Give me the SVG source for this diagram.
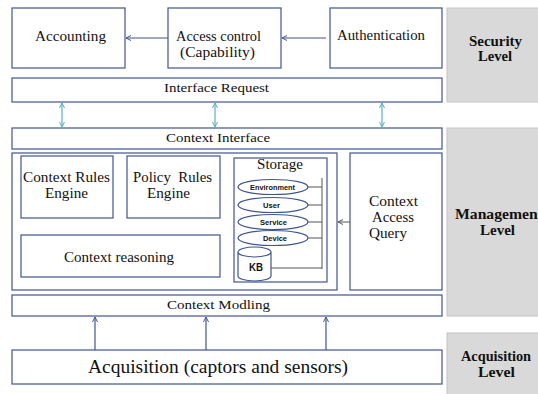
<svg xmlns="http://www.w3.org/2000/svg" width="538" height="394" viewBox="0 0 538 394">
<style>
.box{fill:#fff;stroke:#41558f;stroke-width:1.2}
.lvl{fill:#d9d9d9;stroke:#c4c4c4;stroke-width:1}
.t{fill:#111;text-anchor:middle}
.tb{font-weight:bold;fill:#111;text-anchor:middle}
.ts{font-weight:bold;fill:#111;text-anchor:middle}
.ln{stroke:#41558f;stroke-width:1.2;fill:none}
.tl{stroke:#5aaec4;stroke-width:1.2;fill:none}
.gl{stroke:#555;stroke-width:1;fill:none}
</style>
<defs>
<marker id="ab" markerWidth="8" markerHeight="8" refX="7" refY="4" orient="auto" markerUnits="userSpaceOnUse"><path d="M2,1.5 L7,4 L2,6.5" fill="none" stroke="#41558f" stroke-width="1"/></marker>
<marker id="at" markerWidth="8" markerHeight="8" refX="7" refY="4" orient="auto-start-reverse" markerUnits="userSpaceOnUse"><path d="M2,1.5 L7,4 L2,6.5" fill="none" stroke="#5aaec4" stroke-width="1"/></marker>
<marker id="ag" markerWidth="8" markerHeight="8" refX="7" refY="4" orient="auto" markerUnits="userSpaceOnUse"><path d="M2,1.5 L7,4 L2,6.5" fill="none" stroke="#555" stroke-width="1"/></marker>
</defs>
<rect width="538" height="394" fill="#fff"/>
<g font-family="Liberation Serif, Times New Roman, serif" font-size="14">
<g id="security-level"><rect class="lvl" x="447" y="8" width="95" height="94"/><text class="tb" x="495.5" y="46" textLength="53" lengthAdjust="spacingAndGlyphs">Security</text><text class="tb" x="495" y="61" textLength="34" lengthAdjust="spacingAndGlyphs">Level</text></g>
<g id="management-level"><rect class="lvl" x="447" y="128" width="95" height="188"/><text class="tb" x="455" y="219" style="text-anchor:start" textLength="88" lengthAdjust="spacingAndGlyphs">Management</text><text class="tb" x="497.5" y="235" textLength="35" lengthAdjust="spacingAndGlyphs">Level</text></g>
<g id="acquisition-level"><rect class="lvl" x="447" y="333" width="95" height="65"/><text class="tb" x="496" y="361" textLength="70" lengthAdjust="spacingAndGlyphs">Acquisition</text><text class="tb" x="496.5" y="377" textLength="37" lengthAdjust="spacingAndGlyphs">Level</text></g>

<g id="accounting"><rect class="box" x="12" y="8" width="113" height="60"/><text class="t" x="70.5" y="41" textLength="71" lengthAdjust="spacingAndGlyphs">Accounting</text></g>
<g id="access-control"><rect class="box" x="168" y="8" width="113" height="60"/><text class="t" x="218.5" y="41" textLength="85" lengthAdjust="spacingAndGlyphs">Access control</text><text class="t" x="217.5" y="57" textLength="75" lengthAdjust="spacingAndGlyphs">(Capability)</text></g>
<g id="authentication"><rect class="box" x="330" y="8" width="112" height="60"/><text class="t" x="381" y="40" textLength="88" lengthAdjust="spacingAndGlyphs">Authentication</text></g>
<g id="interface-request"><rect class="box" x="12" y="78" width="430" height="24"/><text class="t" x="216.5" y="92" font-size="13.5" textLength="105" lengthAdjust="spacingAndGlyphs">Interface Request</text></g>
<g id="context-interface"><rect class="box" x="12" y="128" width="430" height="21"/><text class="t" x="218" y="142" font-size="13.5" textLength="104" lengthAdjust="spacingAndGlyphs">Context Interface</text></g>

<g id="management-container"><rect class="box" x="12" y="153" width="325" height="137"/></g>
<g id="context-rules-engine"><rect class="box" x="21" y="156" width="92" height="62"/><text class="t" x="66.5" y="182" textLength="87" lengthAdjust="spacingAndGlyphs">Context Rules</text><text class="t" x="66.5" y="198" textLength="43" lengthAdjust="spacingAndGlyphs">Engine</text></g>
<g id="policy-rules-engine"><rect class="box" x="127" y="156" width="93" height="62"/><text class="t" x="172.5" y="182" xml:space="preserve" textLength="79" lengthAdjust="spacingAndGlyphs">Policy  Rules</text><text class="t" x="168.5" y="198" textLength="43" lengthAdjust="spacingAndGlyphs">Engine</text></g>
<g id="context-reasoning"><rect class="box" x="21" y="235" width="199" height="42"/><text class="t" x="119" y="262" textLength="110" lengthAdjust="spacingAndGlyphs">Context reasoning</text></g>

<g id="storage"><rect class="box" x="234" y="158" width="93" height="124"/><text class="t" x="280" y="169" textLength="46" lengthAdjust="spacingAndGlyphs">Storage</text>
<path class="gl" d="M322,178 V269 M308,187 H322 M308,205 H322 M308,222 H322 M308,238 H322 M271,268 H322"/>
<g font-family="Liberation Sans, Arial, sans-serif" font-size="7.5">
<ellipse class="box" cx="273" cy="187" rx="35" ry="7.5"/><text class="ts" x="272.5" y="190" textLength="45" lengthAdjust="spacingAndGlyphs">Environment</text>
<ellipse class="box" cx="273" cy="205" rx="35" ry="7.5"/><text class="ts" x="271.5" y="208" textLength="17" lengthAdjust="spacingAndGlyphs">User</text>
<ellipse class="box" cx="273" cy="222" rx="35" ry="7.5"/><text class="ts" x="273.5" y="225" textLength="27" lengthAdjust="spacingAndGlyphs">Service</text>
<ellipse class="box" cx="273" cy="238" rx="35" ry="7.5"/><text class="ts" x="275" y="241" textLength="24" lengthAdjust="spacingAndGlyphs">Device</text>
<path class="box" d="M238,252 V276 A16.5,5 0 0 0 271,276 V252 A16.5,5 0 0 0 238,252 A16.5,5 0 0 0 271,252"/>
<text class="ts" x="256" y="271" font-size="10" textLength="14" lengthAdjust="spacingAndGlyphs">KB</text></g></g>

<g id="context-access-query"><rect class="box" x="350" y="153" width="92" height="137"/><text class="t" x="393.5" y="206" textLength="49" lengthAdjust="spacingAndGlyphs">Context</text><text class="t" x="393" y="222" textLength="42" lengthAdjust="spacingAndGlyphs">Access</text><text class="t" x="388" y="238" textLength="38" lengthAdjust="spacingAndGlyphs">Query</text></g>
<g id="context-modling"><rect class="box" x="12" y="295" width="430" height="21"/><text class="t" x="218.5" y="309" font-size="13.5" textLength="103" lengthAdjust="spacingAndGlyphs">Context Modling</text></g>
<g id="acquisition"><rect class="box" x="12" y="350" width="430" height="34"/><text class="t" x="218" y="373" font-size="18" textLength="260" lengthAdjust="spacingAndGlyphs">Acquisition (captors and sensors)</text></g>
</g>
<g id="connectors">
<line class="ln" x1="168" y1="38" x2="126" y2="38" marker-end="url(#ab)"/>
<line class="ln" x1="326" y1="38" x2="282" y2="38" marker-end="url(#ab)"/>
<line class="tl" x1="62" y1="103" x2="62" y2="127" marker-start="url(#at)" marker-end="url(#at)"/>
<line class="tl" x1="215" y1="103" x2="215" y2="127" marker-start="url(#at)" marker-end="url(#at)"/>
<line class="tl" x1="382" y1="103" x2="382" y2="127" marker-start="url(#at)" marker-end="url(#at)"/>
<line class="gl" x1="350" y1="222" x2="338" y2="222" marker-end="url(#ag)"/>
<line class="ln" x1="95" y1="350" x2="95" y2="317" marker-end="url(#ab)"/>
<line class="ln" x1="206" y1="350" x2="206" y2="317" marker-end="url(#ab)"/>
<line class="ln" x1="326" y1="350" x2="326" y2="317" marker-end="url(#ab)"/>
</g>
</svg>
